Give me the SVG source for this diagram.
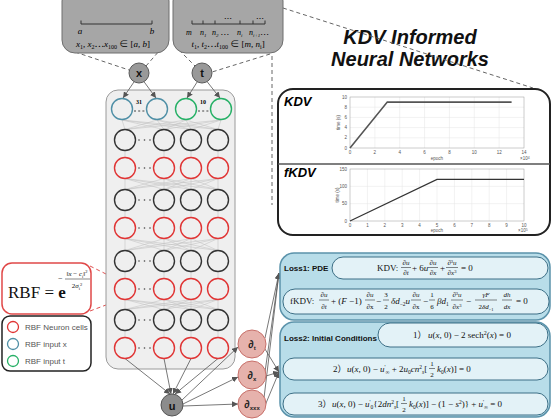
<svg xmlns="http://www.w3.org/2000/svg" width="554" height="420" viewBox="0 0 554 420">
<style>
.sans{font-family:"Liberation Sans",Arial,sans-serif}
.serif{font-family:"Liberation Serif","Noto Sans CJK SC",serif}
.it{font-style:italic}
.dash{fill:none;stroke:#666;stroke-width:1;stroke-dasharray:4 3}
.topbox{fill:#a6a6a6;stroke:#6e6e6e;stroke-width:1}
.gnode{fill:#999;stroke:#5a5a5a;stroke-width:1}
.nlab{font-family:"Liberation Sans",Arial,sans-serif;font-weight:bold;font-size:11px;text-anchor:middle;fill:#111}
.cb{fill:none;stroke:#333;stroke-width:1.4}
.cr{fill:none;stroke:#e03434;stroke-width:1.4}
.cx{fill:none;stroke:#4f8fa6;stroke-width:1.4}
.ct{fill:none;stroke:#26b066;stroke-width:1.4}
.mesh{fill:none;stroke:#c4c4c4;stroke-width:0.6}
.arr{fill:none;stroke:#555;stroke-width:0.8;marker-end:url(#ah)}
.dnode{fill:#e6b2ac;stroke:#c8706a;stroke-width:1}
.grid{stroke:#e4e4e4;stroke-width:0.5}
.tick{font-family:"Liberation Sans",Arial,sans-serif;font-size:4.5px;fill:#555}
.lossbox{fill:#b8dde9;stroke:#5b93ab;stroke-width:1.5}
.pill{fill:#e3f2f7;stroke:#3c6f86;stroke-width:1}
.eq{font-family:"Liberation Serif","Noto Sans CJK SC",serif;font-size:9px;fill:#111}
.fr{font-family:"Liberation Serif",serif;font-size:7px;fill:#111;text-anchor:middle}
.fl{stroke:#111;stroke-width:0.5}
</style>
<defs>
<marker id="ah" markerUnits="userSpaceOnUse" markerWidth="6" markerHeight="6" refX="6" refY="3" orient="auto">
<path d="M0,0 L6,3 L0,6 z" fill="#555"/>
</marker>
</defs>

<!-- title -->
<g id="title" class="sans" font-weight="bold" font-style="italic" font-size="20" text-anchor="middle" fill="#111">
<text x="410" y="44">KDV Informed</text>
<text x="410" y="66">Neural Networks</text>
</g>

<!-- dashed callout connectors -->
<g id="callouts">
<path class="dash" d="M75,52 L129,70"/>
<path class="dash" d="M167,42 L146,66"/>
<path class="dash" d="M179,50 L195,66"/>
<path class="dash" d="M270,54 L212,72"/>
<path class="dash" d="M272,56 L272,205"/>
<path class="dash" d="M283,8 L533,88"/>
<path d="M90,266 L118,280" fill="none" stroke="#e05050" stroke-width="1" stroke-dasharray="4 3"/>
<path d="M90,311 L122,299" fill="none" stroke="#e05050" stroke-width="1" stroke-dasharray="4 3"/>
</g>

<!-- x domain box -->
<g id="xdomain">
<rect class="topbox" x="62" y="-12" width="107" height="65" rx="13"/>
<path d="M81,24 L152,24 M81,20.5 L81,24 M152,20.5 L152,24" stroke="#333" stroke-width="1" fill="none"/>
<text class="serif it" x="80" y="34" font-size="9" text-anchor="middle">a</text>
<text class="serif it" x="152" y="34" font-size="9" text-anchor="middle">b</text>
<text class="serif" x="113" y="47" font-size="9" text-anchor="middle"><tspan class="it">x</tspan><tspan font-size="6" dy="2">1</tspan><tspan dy="-2">, </tspan><tspan class="it">x</tspan><tspan font-size="6" dy="2">2</tspan><tspan dy="-2">⋯</tspan><tspan class="it">x</tspan><tspan font-size="6" dy="2">100</tspan><tspan dy="-2"> ∈ [</tspan><tspan class="it">a</tspan>, <tspan class="it">b</tspan>]</text>
</g>

<!-- t domain box -->
<g id="tdomain">
<rect class="topbox" x="173" y="-12" width="110" height="65" rx="13"/>
<path d="M192,24 L265,24 M192,20.5 L192,24 M203,20.5 L203,24 M215,20.5 L215,24 M240,20.5 L240,24 M253,20.5 L253,24 M265,20.5 L265,24" stroke="#333" stroke-width="1" fill="none"/>
<text class="serif" x="228" y="22" font-size="8" text-anchor="middle">⋯</text>
<text class="serif" x="260" y="22" font-size="8" text-anchor="middle">⋯</text>
<text class="serif it" font-size="8" y="35"><tspan x="186">m</tspan><tspan x="200">n</tspan><tspan font-size="5" dy="1.5">1</tspan><tspan x="212" dy="-1.5">n</tspan><tspan font-size="5" dy="1.5">2</tspan><tspan dy="-1.5" font-style="normal"> ⋯</tspan><tspan x="237">n</tspan><tspan font-size="5" dy="1.5">i</tspan><tspan x="249" dy="-1.5">n</tspan><tspan font-size="5" dy="1.5">i+1</tspan><tspan dy="-1.5" font-style="normal">⋯</tspan></text>
<text class="serif" x="228" y="47" font-size="9" text-anchor="middle"><tspan class="it">t</tspan><tspan font-size="6" dy="2">1</tspan><tspan dy="-2">, </tspan><tspan class="it">t</tspan><tspan font-size="6" dy="2">2</tspan><tspan dy="-2">⋯</tspan><tspan class="it">t</tspan><tspan font-size="6" dy="2">100</tspan><tspan dy="-2"> ∈ [</tspan><tspan class="it">m</tspan>, <tspan class="it">n</tspan><tspan font-size="6" dy="2">i</tspan><tspan dy="-2">]</tspan></text>
</g>

<!-- plots box -->
<g id="plots">
<rect x="278" y="89" width="272" height="146" rx="15" fill="#fff" stroke="#222" stroke-width="2"/>
<line x1="278" y1="164" x2="550" y2="164" stroke="#555" stroke-width="1.5"/>
<text class="sans" x="284" y="106" font-size="13" font-weight="bold" font-style="italic">KDV</text>
<text class="sans" x="284" y="177" font-size="13" font-weight="bold" font-style="italic">fKDV</text>
<g>
<path class="grid" d="M374.86,97V148M399.71,97V148M424.57,97V148M449.43,97V148M474.29,97V148M499.14,97V148M350,137.8H524M350,127.6H524M350,117.4H524M350,107.2H524"/>
<rect x="350" y="97" width="174" height="51" fill="none" stroke="#999" stroke-width="0.5"/>
<polyline points="350,148 387.3,102.1 511.6,102.1" fill="none" stroke="#555" stroke-width="1.6"/>
<g class="tick" text-anchor="middle">
<text x="350" y="154">0</text><text x="374.86" y="154">2</text><text x="399.71" y="154">4</text><text x="424.57" y="154">6</text><text x="449.43" y="154">8</text><text x="474.29" y="154">10</text><text x="499.14" y="154">12</text><text x="524" y="154">14</text>
</g>
<g class="tick" text-anchor="end">
<text x="347" y="149.5">0</text><text x="347" y="139.3">2</text><text x="347" y="129.1">4</text><text x="347" y="118.9">6</text><text x="347" y="108.7">8</text><text x="347" y="98.5">10</text>
</g>
<text class="tick" x="437" y="160" text-anchor="middle">epoch</text>
<text class="tick" x="340" y="122.5" text-anchor="middle" transform="rotate(-90 340 122.5)">time (s)</text>
<text class="tick" x="520" y="160">×10<tspan font-size="3.5" dy="-1.5">4</tspan></text>
</g>
<g>
<path class="grid" d="M367.4,169V221M384.8,169V221M402.2,169V221M419.6,169V221M437,169V221M454.4,169V221M471.8,169V221M489.2,169V221M506.6,169V221M350,203.67H524M350,186.33H524"/>
<rect x="350" y="169" width="174" height="52" fill="none" stroke="#999" stroke-width="0.5"/>
<polyline points="350,221 437,179.4 524,179.4" fill="none" stroke="#333" stroke-width="1.2"/>
<g class="tick" text-anchor="middle">
<text x="350" y="227">0</text><text x="367.4" y="227">1</text><text x="384.8" y="227">2</text><text x="402.2" y="227">3</text><text x="419.6" y="227">4</text><text x="437" y="227">5</text><text x="454.4" y="227">6</text><text x="471.8" y="227">7</text><text x="489.2" y="227">8</text><text x="506.6" y="227">9</text><text x="524" y="227">10</text>
</g>
<g class="tick" text-anchor="end">
<text x="347" y="222.5">0</text><text x="347" y="205.2">50</text><text x="347" y="187.8">100</text><text x="347" y="170.5">150</text>
</g>
<text class="tick" x="437" y="232" text-anchor="middle">epoch</text>
<text class="tick" x="339" y="195" text-anchor="middle" transform="rotate(-90 339 195)">time (s)</text>
<text class="tick" x="518" y="232">×10<tspan font-size="3.5" dy="-1.5">5</tspan></text>
</g>
</g>

<!-- network container -->
<g id="network">
<rect x="106" y="90" width="129" height="279" rx="12" fill="#efefef" stroke="#9a9a9a" stroke-width="1"/>
</g>

<!-- connectors -->
<g id="connectors">
<path class="mesh" d="M122,120L125,129.5M122,120L164,129.5M122,120L191,129.5M122,120L218,129.5M157,120L125,129.5M157,120L164,129.5M157,120L191,129.5M157,120L218,129.5M186,120L125,129.5M186,120L164,129.5M186,120L191,129.5M186,120L218,129.5M221,120L125,129.5M221,120L164,129.5M221,120L191,129.5M221,120L218,129.5"/>
<path class="mesh" d="M125,178.5L125,189.5M125,178.5L164,189.5M125,178.5L191,189.5M125,178.5L218,189.5M164,178.5L125,189.5M164,178.5L164,189.5M164,178.5L191,189.5M164,178.5L218,189.5M191,178.5L125,189.5M191,178.5L164,189.5M191,178.5L191,189.5M191,178.5L218,189.5M218,178.5L125,189.5M218,178.5L164,189.5M218,178.5L191,189.5M218,178.5L218,189.5"/>
<path class="mesh" d="M125,238.5L125,250.5M125,238.5L164,250.5M125,238.5L191,250.5M125,238.5L218,250.5M164,238.5L125,250.5M164,238.5L164,250.5M164,238.5L191,250.5M164,238.5L218,250.5M191,238.5L125,250.5M191,238.5L164,250.5M191,238.5L191,250.5M191,238.5L218,250.5M218,238.5L125,250.5M218,238.5L164,250.5M218,238.5L191,250.5M218,238.5L218,250.5"/>
<path class="mesh" d="M125,299.5L125,309.5M125,299.5L164,309.5M125,299.5L191,309.5M125,299.5L218,309.5M164,299.5L125,309.5M164,299.5L164,309.5M164,299.5L191,309.5M164,299.5L218,309.5M191,299.5L125,309.5M191,299.5L164,309.5M191,299.5L191,309.5M191,299.5L218,309.5M218,299.5L125,309.5M218,299.5L164,309.5M218,299.5L191,309.5M218,299.5L218,309.5"/>
<path class="mesh" d="M125,150.5V157.5M164,150.5V157.5M191,150.5V157.5M218,150.5V157.5M125,210.5V217.5M164,210.5V217.5M191,210.5V217.5M218,210.5V217.5M125,271.5V278.5M164,271.5V278.5M191,271.5V278.5M218,271.5V278.5M125,330.5V337.5M164,330.5V337.5M191,330.5V337.5M218,330.5V337.5"/>
<path class="arr" d="M136,79 L123,98"/>
<path class="arr" d="M142,79 L156,98"/>
<path class="arr" d="M199,79 L187,98"/>
<path class="arr" d="M205,79 L220,98"/>
<path class="arr" d="M125,358.5 L170,394"/>
<path class="arr" d="M164,358.5 L171,394"/>
<path class="arr" d="M191,358.5 L173,394"/>
<path class="arr" d="M218,358.5 L175,394"/>
<path class="arr" d="M182,400 L238,347"/>
<path class="arr" d="M183,404 L238,377"/>
<path class="arr" d="M183,406 L238,404"/>
<path class="arr" d="M265,338 L279,273"/>
<path class="arr" d="M265,372 L279,273"/>
<path class="arr" d="M264,398 L279,273"/>
<path class="arr" d="M265,349 L279,372"/>
<path class="arr" d="M266,376 L279,372"/>
<path class="arr" d="M264,408 L279,372"/>
</g>

<g id="node-x"><circle class="gnode" cx="139" cy="73" r="10"/><text class="nlab" x="139" y="77">x</text></g>
<g id="node-t"><circle class="gnode" cx="202" cy="73" r="10"/><text class="nlab" x="202" y="77">t</text></g>

<g id="input-layer">
<circle class="cx" cx="122" cy="109" r="10.5"/><circle class="cx" cx="157" cy="109" r="10.5"/>
<circle class="ct" cx="186" cy="109" r="10.5"/><circle class="ct" cx="221" cy="109" r="10.5"/>
<text class="serif" x="139" y="104" font-size="6" font-weight="bold" text-anchor="middle">31</text>
<text class="serif" x="203" y="104" font-size="6" font-weight="bold" text-anchor="middle">10</text>
<path d="M134,111H146M198,111H210" stroke="#444" stroke-width="1" stroke-dasharray="2 2.2"/>
</g>

<g id="hidden-layers">
<g id="row1"><circle class="cb" cx="125" cy="140" r="10.5"/><circle class="cb" cx="164" cy="140" r="10.5"/><circle class="cb" cx="191" cy="140" r="10.5"/><circle class="cb" cx="218" cy="140" r="10.5"/></g>
<g id="row2"><circle class="cr" cx="125" cy="168" r="10.5"/><circle class="cr" cx="164" cy="168" r="10.5"/><circle class="cr" cx="191" cy="168" r="10.5"/><circle class="cr" cx="218" cy="168" r="10.5"/></g>
<g id="row3"><circle class="cb" cx="125" cy="200" r="10.5"/><circle class="cb" cx="164" cy="200" r="10.5"/><circle class="cb" cx="191" cy="200" r="10.5"/><circle class="cb" cx="218" cy="200" r="10.5"/></g>
<g id="row4"><circle class="cr" cx="125" cy="228" r="10.5"/><circle class="cr" cx="164" cy="228" r="10.5"/><circle class="cr" cx="191" cy="228" r="10.5"/><circle class="cr" cx="218" cy="228" r="10.5"/></g>
<g id="row5"><circle class="cb" cx="125" cy="261" r="10.5"/><circle class="cb" cx="164" cy="261" r="10.5"/><circle class="cb" cx="191" cy="261" r="10.5"/><circle class="cb" cx="218" cy="261" r="10.5"/></g>
<g id="row6"><circle class="cr" cx="125" cy="289" r="10.5"/><circle class="cr" cx="164" cy="289" r="10.5"/><circle class="cr" cx="191" cy="289" r="10.5"/><circle class="cr" cx="218" cy="289" r="10.5"/></g>
<g id="row7"><circle class="cb" cx="125" cy="320" r="10.5"/><circle class="cb" cx="164" cy="320" r="10.5"/><circle class="cb" cx="191" cy="320" r="10.5"/><circle class="cb" cx="218" cy="320" r="10.5"/></g>
<g id="row8"><circle class="cr" cx="125" cy="348" r="10.5"/><circle class="cr" cx="164" cy="348" r="10.5"/><circle class="cr" cx="191" cy="348" r="10.5"/><circle class="cr" cx="218" cy="348" r="10.5"/></g>
<g fill="#444">
<circle cx="139" cy="140" r="0.8"/><circle cx="144.5" cy="140" r="0.8"/><circle cx="150" cy="140" r="0.8"/>
<circle cx="139" cy="168" r="0.8"/><circle cx="144.5" cy="168" r="0.8"/><circle cx="150" cy="168" r="0.8"/>
<circle cx="139" cy="200" r="0.8"/><circle cx="144.5" cy="200" r="0.8"/><circle cx="150" cy="200" r="0.8"/>
<circle cx="139" cy="228" r="0.8"/><circle cx="144.5" cy="228" r="0.8"/><circle cx="150" cy="228" r="0.8"/>
<circle cx="139" cy="261" r="0.8"/><circle cx="144.5" cy="261" r="0.8"/><circle cx="150" cy="261" r="0.8"/>
<circle cx="139" cy="289" r="0.8"/><circle cx="144.5" cy="289" r="0.8"/><circle cx="150" cy="289" r="0.8"/>
<circle cx="139" cy="320" r="0.8"/><circle cx="144.5" cy="320" r="0.8"/><circle cx="150" cy="320" r="0.8"/>
<circle cx="139" cy="348" r="0.8"/><circle cx="144.5" cy="348" r="0.8"/><circle cx="150" cy="348" r="0.8"/>
</g>
</g>

<g id="node-u"><circle cx="172" cy="405" r="11" fill="#8c8c8c" stroke="#555" stroke-width="1"/><text class="nlab" x="172" y="409.5" font-size="12">u</text></g>

<g id="node-dt"><circle class="dnode" cx="252" cy="344" r="14"/><text class="sans" x="252" y="348" font-size="11" font-weight="bold" text-anchor="middle" fill="#222">∂<tspan font-size="6" dy="2">t</tspan></text></g>
<g id="node-dx"><circle class="dnode" cx="252" cy="375" r="14"/><text class="sans" x="252" y="379" font-size="11" font-weight="bold" text-anchor="middle" fill="#222">∂<tspan font-size="6" dy="2">x</tspan></text></g>
<g id="node-dxxx"><circle class="dnode" cx="252" cy="404" r="14"/><text class="sans" x="252" y="408" font-size="11" font-weight="bold" text-anchor="middle" fill="#222">∂<tspan font-size="6" dy="2">xxx</tspan></text></g>

<g id="rbf-formula">
<rect x="2" y="263" width="89" height="51" rx="10" fill="#fff" stroke="#e04848" stroke-width="1.5"/>
<text class="serif" x="8" y="298" font-size="17" fill="#111">RBF = <tspan font-weight="bold">e</tspan></text>
<text class="serif" x="58" y="281" font-size="8" fill="#111">−</text>
<text class="fr" x="77" y="276" font-size="6.5">‖<tspan class="it">x</tspan> − <tspan class="it">c</tspan><tspan font-size="4.5" dy="1.5">i</tspan><tspan dy="-1.5">‖</tspan><tspan font-size="4.5" dy="-3">2</tspan></text>
<line class="fl" x1="65" y1="279" x2="90" y2="279"/>
<text class="fr" x="77" y="288" font-size="6.5">2<tspan class="it">σ</tspan><tspan font-size="4.5" dy="1.5">i</tspan><tspan font-size="4.5" dy="-4">2</tspan></text>
</g>

<g id="legend">
<rect x="2" y="316" width="89" height="55" rx="8" fill="#fff" stroke="#222" stroke-width="1.5"/>
<circle cx="13" cy="327" r="5.5" fill="none" stroke="#e03434" stroke-width="1.3"/>
<circle cx="13" cy="344" r="5.5" fill="none" stroke="#4f8fa6" stroke-width="1.3"/>
<circle cx="13" cy="361" r="5.5" fill="none" stroke="#26b066" stroke-width="1.3"/>
<g class="sans" font-size="8" fill="#555">
<text x="25" y="330">RBF Neuron cells</text>
<text x="25" y="347">RBF input x</text>
<text x="25" y="364">RBF input t</text>
</g>
</g>

<g id="loss1">
<rect class="lossbox" x="280" y="253" width="270" height="67" rx="14"/>
<text class="sans" x="284" y="271" font-size="8" font-weight="bold" fill="#111">Loss1: PDE</text>
<rect class="pill" x="332" y="257" width="216" height="22" rx="11"/>
<text class="eq" x="377" y="271">KDV:</text>
<text class="fr" x="406" y="265">∂<tspan class="it">u</tspan></text><line class="fl" x1="401" y1="267.5" x2="411" y2="267.5"/><text class="fr" x="406" y="275">∂<tspan class="it">t</tspan></text>
<text class="eq" x="412" y="271">+ 6<tspan class="it">u</tspan></text>
<text class="fr" x="433" y="265">∂<tspan class="it">u</tspan></text><line class="fl" x1="428" y1="267.5" x2="438" y2="267.5"/><text class="fr" x="433" y="275">∂<tspan class="it">x</tspan></text>
<text class="eq" x="440" y="271">+</text>
<text class="fr" x="452" y="265">∂<tspan font-size="4.5" dy="-2">3</tspan><tspan class="it" dy="2">u</tspan></text><line class="fl" x1="446" y1="267.5" x2="458" y2="267.5"/><text class="fr" x="452" y="275">∂<tspan class="it">x</tspan><tspan font-size="4.5" dy="-2">3</tspan></text>
<text class="eq" x="461" y="271">= 0</text>

<rect class="pill" x="283" y="289" width="266" height="25" rx="12"/>
<text class="eq" x="290" y="304">fKDV:</text>
<text class="fr" x="324" y="297">∂<tspan class="it">u</tspan></text><line class="fl" x1="319" y1="300" x2="329" y2="300"/><text class="fr" x="324" y="309">∂<tspan class="it">t</tspan></text>
<text class="eq" x="331" y="304">+ (<tspan class="it">F</tspan> −1)</text>
<text class="fr" x="370" y="297">∂<tspan class="it">u</tspan></text><line class="fl" x1="365" y1="300" x2="375" y2="300"/><text class="fr" x="370" y="309">∂x</text>
<text class="eq" x="376" y="304">−</text>
<text class="fr" x="386" y="297">3</text><line class="fl" x1="383" y1="300" x2="389" y2="300"/><text class="fr" x="386" y="309">2</text>
<text class="eq" x="391" y="304"><tspan class="it">δd</tspan><tspan font-size="5.5" dy="2">−2</tspan><tspan class="it" dy="-2">u</tspan></text>
<text class="fr" x="416" y="297">∂<tspan class="it">u</tspan></text><line class="fl" x1="411" y1="300" x2="421" y2="300"/><text class="fr" x="416" y="309">∂x</text>
<text class="eq" x="423" y="304">−</text>
<text class="fr" x="432" y="297">1</text><line class="fl" x1="429" y1="300" x2="435" y2="300"/><text class="fr" x="432" y="309">6</text>
<text class="eq" x="437" y="304"><tspan class="it">βd</tspan><tspan font-size="5.5" dy="2">1</tspan></text>
<text class="fr" x="457" y="297">∂<tspan font-size="4.5" dy="-2">3</tspan><tspan class="it" dy="2">u</tspan></text><line class="fl" x1="451" y1="300" x2="463" y2="300"/><text class="fr" x="457" y="309">∂<tspan class="it">x</tspan><tspan font-size="4.5" dy="-2">3</tspan></text>
<text class="eq" x="466" y="304">−</text>
<text class="fr" x="486" y="297"><tspan class="it">γF</tspan></text><line class="fl" x1="475" y1="300" x2="497" y2="300"/><text class="fr" x="486" y="309">2<tspan class="it">δd</tspan><tspan font-size="4.5" dy="1.5">−1</tspan></text>
<text class="fr" x="507" y="297"><tspan class="it">dh</tspan></text><line class="fl" x1="502" y1="300" x2="512" y2="300"/><text class="fr" x="507" y="309"><tspan class="it">dx</tspan></text>
<text class="eq" x="516" y="304">= 0</text>
</g>

<g id="loss2">
<rect class="lossbox" x="280" y="322" width="270" height="95" rx="14"/>
<text class="sans" x="284" y="341" font-size="8" font-weight="bold" fill="#111">Loss2: Initial Conditions</text>
<rect class="pill" x="378" y="323" width="170" height="24" rx="12"/>
<text class="eq" x="413" y="338">1）</text>
<text class="eq" x="428" y="338"><tspan class="it">u</tspan>(<tspan class="it">x</tspan>, 0) − 2 sech<tspan font-size="6" dy="-3">2</tspan><tspan dy="3">(</tspan><tspan class="it">x</tspan>) = 0</text>

<rect class="pill" x="283" y="358" width="265" height="22" rx="11"/>
<text class="eq" x="333" y="372">2）</text>
<text class="eq" x="347" y="372"><tspan class="it">u</tspan>(<tspan class="it">x</tspan>, 0) − <tspan class="it">u</tspan><tspan font-size="5.5" dy="-3">'</tspan><tspan font-size="5.5" dy="4.5">∞</tspan><tspan dy="-1.5"> + 2</tspan><tspan class="it">u</tspan><tspan font-size="5.5" dy="1.5">0</tspan><tspan class="it" dy="-1.5">cn</tspan><tspan font-size="5.5" dy="-3">2</tspan><tspan font-size="5.5" dy="4.5" class="it">s</tspan><tspan dy="-1.5">[</tspan></text>
<text class="fr" x="432" y="366">1</text><line class="fl" x1="429" y1="368.5" x2="435" y2="368.5"/><text class="fr" x="432" y="377">2</text>
<text class="eq" x="437" y="372"><tspan class="it">k</tspan><tspan font-size="5.5" dy="1.5">0</tspan><tspan dy="-1.5">(</tspan><tspan class="it">x</tspan>)] = 0</text>

<rect class="pill" x="283" y="393" width="265" height="22" rx="11"/>
<text class="eq" x="318" y="407">3）</text>
<text class="eq" x="332" y="407"><tspan class="it">u</tspan>(<tspan class="it">x</tspan>, 0) − <tspan class="it">u</tspan><tspan font-size="5.5" dy="-3">'</tspan><tspan font-size="5.5" dy="4.5">0</tspan><tspan dy="-1.5">{2</tspan><tspan class="it">dn</tspan><tspan font-size="5.5" dy="-3">2</tspan><tspan font-size="5.5" dy="4.5" class="it">s</tspan><tspan dy="-1.5">[</tspan></text>
<text class="fr" x="404" y="401">1</text><line class="fl" x1="401" y1="403.5" x2="407" y2="403.5"/><text class="fr" x="404" y="412">2</text>
<text class="eq" x="409" y="407"><tspan class="it">k</tspan><tspan font-size="5.5" dy="1.5">0</tspan><tspan dy="-1.5">(</tspan><tspan class="it">x</tspan>)] − (1 − <tspan class="it">s</tspan><tspan font-size="5.5" dy="-3">2</tspan><tspan dy="3">)} + </tspan><tspan class="it">u</tspan><tspan font-size="5.5" dy="-3">'</tspan><tspan font-size="5.5" dy="4.5">∞</tspan><tspan dy="-1.5"> = 0</tspan></text>
</g>
</svg>
